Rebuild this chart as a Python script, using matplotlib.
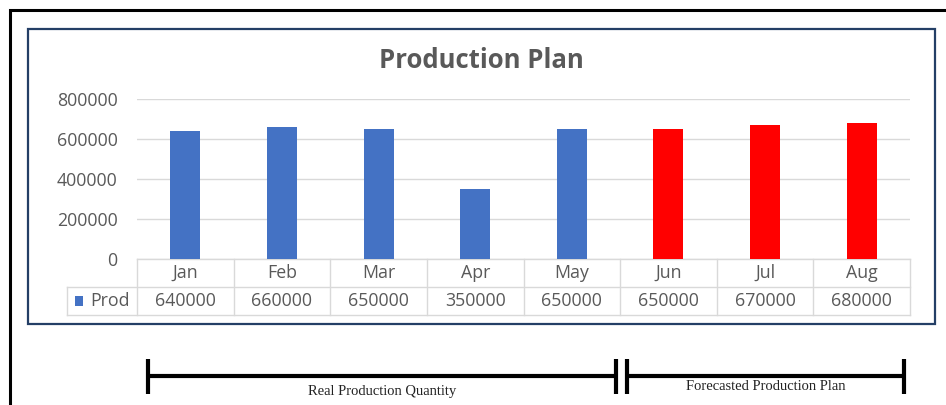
import matplotlib
matplotlib.use("Agg")
import matplotlib.pyplot as plt
from matplotlib.lines import Line2D
from matplotlib.patches import Rectangle
import matplotlib.transforms as mtransforms

months = ["Jan", "Feb", "Mar", "Apr", "May", "Jun", "Jul", "Aug"]
prod = [640000, 660000, 650000, 350000, 650000, 650000, 670000, 680000]
n_real = 5  # first five months are real, rest forecasted
yticks = [0, 200000, 400000, 600000, 800000]

BLUE = "#4472C4"
RED = "#FF0000"
GRAY = "#595959"
GRID = "#D9D9D9"
FS = 12.8

plt.rcParams["font.family"] = ["Open Sans", "DejaVu Sans"]

W, H = 946, 405
fig = plt.figure(figsize=(W / 100, H / 100), dpi=100)


def fx(px):
    return px / W


def fy(py):
    return 1 - py / H


# outer black frame (runs off the right/bottom edge)
fig.add_artist(Rectangle((fx(10), fy(430)), fx(960) - fx(10), fy(10) - fy(430),
                         fill=False, edgecolor="black", lw=2.2,
                         transform=fig.transFigure))
# chart area frame
fig.add_artist(Rectangle((fx(28), fy(324)), fx(935) - fx(28), fy(29) - fy(324),
                         fill=False, edgecolor="#243F66", lw=1.6,
                         transform=fig.transFigure))

ax = fig.add_axes([fx(137), fy(259), fx(910) - fx(137), fy(99) - fy(259)])
x = list(range(len(months)))
colors = [BLUE if i < n_real else RED for i in x]
ax.bar(x, prod, width=0.31, color=colors, zorder=3)

ax.set_xlim(-0.5, len(months) - 0.5)
ax.set_ylim(0, 800000)
ax.set_yticks(yticks)
ax.set_yticklabels([str(v) for v in yticks], color=GRAY, fontsize=FS)
ax.tick_params(axis="y", length=0, pad=14)
ax.set_xticks([])
ax.grid(axis="y", color=GRID, lw=1, zorder=0)
for s in ax.spines.values():
    s.set_visible(False)

fig.text(fx(481), fy(61), "Production Plan", ha="center", va="center",
         fontsize=18.5, fontweight="bold", color=GRAY)

# data table under the axis
tr = mtransforms.blended_transform_factory(ax.transData, ax.transAxes)
r1 = -28 / 160
r2 = -56 / 160
leg_left = -0.5 - 70 / 96.6
kw = dict(color=GRID, lw=1, transform=tr, clip_on=False)
ax.add_line(Line2D([-0.5, len(months) - 0.5], [0, 0], **kw))
ax.add_line(Line2D([leg_left, len(months) - 0.5], [r1, r1], **kw))
ax.add_line(Line2D([leg_left, len(months) - 0.5], [r2, r2], **kw))
ax.add_line(Line2D([leg_left, leg_left], [r1, r2], **kw))
for i in range(len(months) + 1):
    ax.add_line(Line2D([i - 0.5, i - 0.5], [0, r2], **kw))

for i, (m, v) in enumerate(zip(months, prod)):
    ax.text(i, r1 / 2, m, transform=tr, ha="center", va="center",
            color=GRAY, fontsize=FS)
    ax.text(i, (r1 + r2) / 2, str(v), transform=tr, ha="center", va="center",
            color=GRAY, fontsize=FS)

ax.add_patch(Rectangle((leg_left + 0.08, (r1 + r2) / 2 - 0.03), 0.09, 0.06,
                       facecolor=BLUE, transform=tr, clip_on=False))
ax.text(leg_left + 0.24, (r1 + r2) / 2, "Prod", transform=tr, ha="left",
        va="center", color=GRAY, fontsize=FS)

# brackets for real vs forecast


def bracket(x0, x1, label, ty):
    lk = dict(color="black", lw=3, transform=fig.transFigure, solid_capstyle="butt")
    fig.add_artist(Line2D([fx(x0), fx(x1)], [fy(376), fy(376)], **lk))
    fig.add_artist(Line2D([fx(x0), fx(x0)], [fy(359), fy(394)], **lk))
    fig.add_artist(Line2D([fx(x1), fx(x1)], [fy(359), fy(394)], **lk))
    fig.text(fx((x0 + x1) / 2), fy(ty), label, ha="center", va="center",
             fontsize=10.5, family="Liberation Serif", color="#222222")


bracket(148, 616, "Real Production Quantity", 391)
bracket(627, 904, "Forecasted Production Plan", 387)

fig.savefig("out.png", dpi=100)
